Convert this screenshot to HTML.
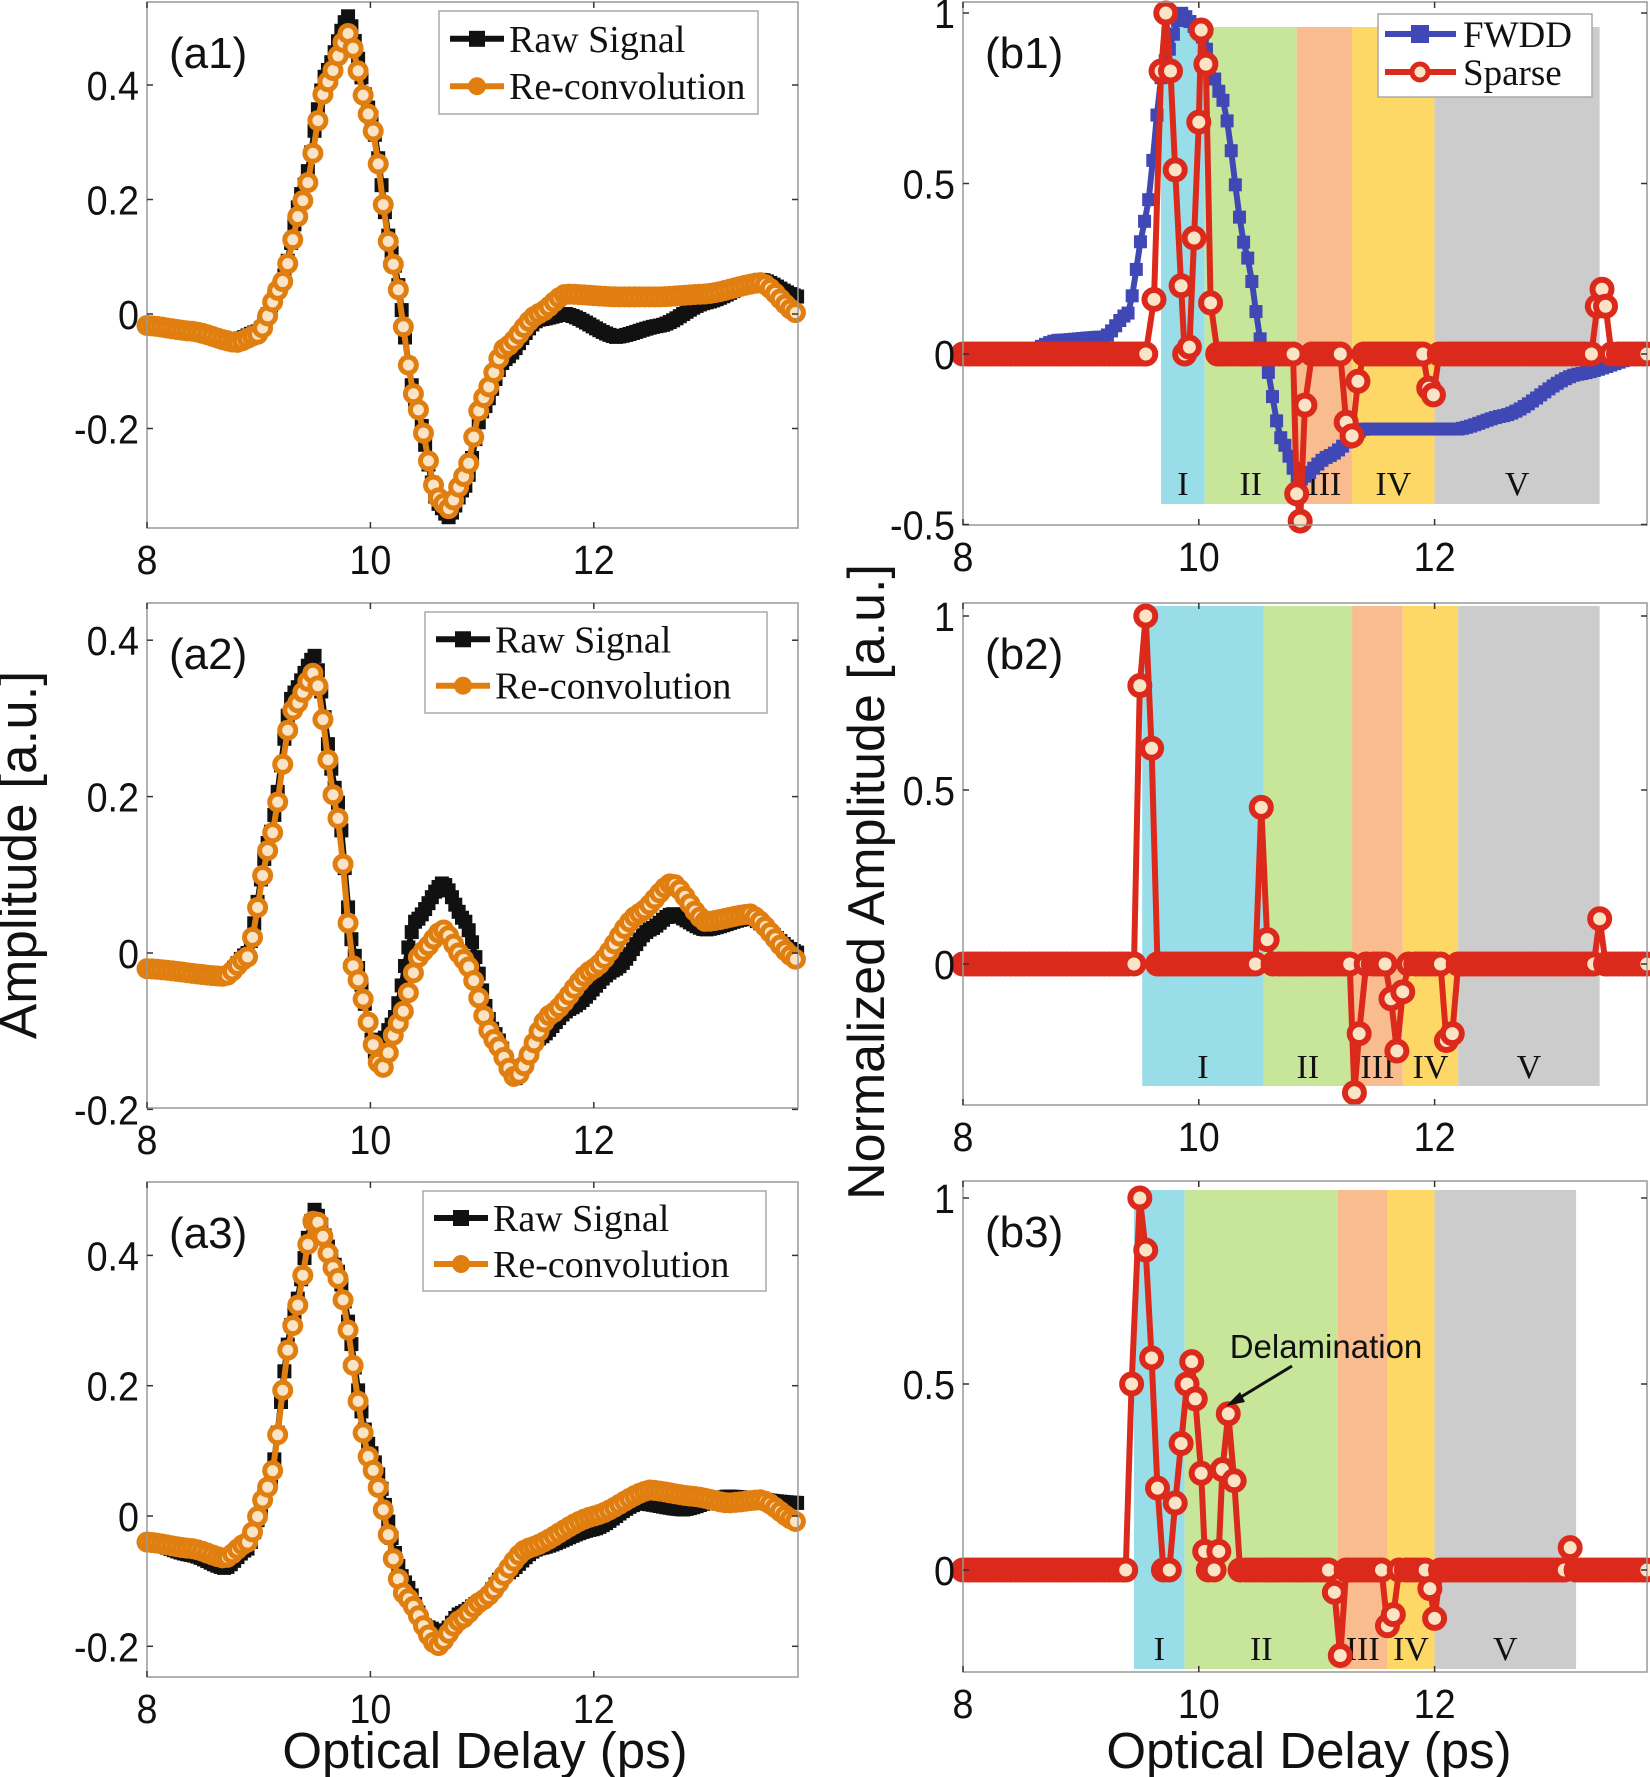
<!DOCTYPE html>
<html><head><meta charset="utf-8">
<style>
html,body{margin:0;padding:0;background:#fff;}
svg{display:block;}
</style></head>
<body>
<svg id="s" xmlns="http://www.w3.org/2000/svg" width="1650" height="1777" viewBox="0 0 1650 1777"></svg>
<script>
const NS="http://www.w3.org/2000/svg";
const S=document.getElementById('s');
function el(tag,attrs,txt){const e=document.createElementNS(NS,tag);for(const k in attrs)e.setAttribute(k,attrs[k]);if(txt!==undefined)e.textContent=txt;S.appendChild(e);return e;}
function interp(kp,t){if(t<=kp[0][0])return kp[0][1];for(let i=1;i<kp.length;i++){if(t<=kp[i][0]){const a=kp[i-1],b=kp[i];const f=(t-a[0])/(b[0]-a[0]);const s=(1-Math.cos(Math.PI*f))/2;return a[1]+(b[1]-a[1])*(0.5*f+0.5*s);}}return kp[kp.length-1][1];}
function sample(kp,x0,x1,dt){const p=[];for(let t=x0;t<=x1+1e-9;t+=dt)p.push([t,interp(kp,t)]);return p;}
function sparse(spikes,x0,x1,dt){let pts=[];const ranges=spikes.map(s=>[s[0][0],s[s.length-1][0]]);for(let t=x0;t<=x1+1e-9;t+=dt){if(!ranges.some(r=>t>=r[0]-0.02&&t<=r[1]+0.02))pts.push([t,0]);}spikes.forEach(s=>pts=pts.concat(s));pts.sort((a,b)=>a[0]-b[0]);return pts;}
function axes(ax){
  const X=v=>ax.x0+(v-8)*ax.xs, Y=v=>ax.y0-v*ax.ys;
  ax.X=X;ax.Y=Y;
  el('rect',{x:ax.l,y:ax.t,width:ax.r-ax.l,height:ax.b-ax.t,fill:'#fff',stroke:'none'});
  return ax;
}
function frame(ax){
  el('rect',{x:ax.l,y:ax.t,width:ax.r-ax.l,height:ax.b-ax.t,fill:'none',stroke:'#999','stroke-width':1.5});
  [8,10,12].forEach(v=>{const x=ax.X(v);el('line',{x1:x,y1:ax.b,x2:x,y2:ax.b-6,stroke:'#333','stroke-width':1.5});el('line',{x1:x,y1:ax.t,x2:x,y2:ax.t+6,stroke:'#333','stroke-width':1.5});
    el('text',{x:x,y:ax.b+46,'font-family':'Liberation Sans, Arial, sans-serif','font-size':41,'text-anchor':'middle',fill:'#111',transform:`translate(${x},0) scale(0.92,1) translate(${-x},0)`},String(v));});
  ax.yt.forEach(v=>{const y=ax.Y(v);el('line',{x1:ax.l,y1:y,x2:ax.l+6,y2:y,stroke:'#333','stroke-width':1.5});el('line',{x1:ax.r,y1:y,x2:ax.r-6,y2:y,stroke:'#333','stroke-width':1.5});
    const tx=ax.l-8;el('text',{x:tx,y:y+15,'font-family':'Liberation Sans, Arial, sans-serif','font-size':41,'text-anchor':'end',fill:'#111',transform:`translate(${tx},0) scale(0.92,1) translate(${-tx},0)`},String(v));});
  el('text',{x:ax.l+22,y:ax.t+66,'font-family':'Liberation Sans, Arial, sans-serif','font-size':44,fill:'#111'},ax.lab);
}
function line(ax,pts,col,w){el('polyline',{points:pts.map(p=>ax.X(p[0]).toFixed(1)+','+ax.Y(p[1]).toFixed(1)).join(' '),fill:'none',stroke:col,'stroke-width':w,'stroke-linejoin':'round'});}
function squares(ax,pts,col,s){pts.forEach(p=>el('rect',{x:ax.X(p[0])-s/2,y:ax.Y(p[1])-s/2,width:s,height:s,fill:col}));}
function circles(ax,pts,col,r,sw){pts.forEach(p=>el('circle',{cx:ax.X(p[0]),cy:ax.Y(p[1]),r:r,fill:'#fbe3c6',stroke:col,'stroke-width':sw}));}
function clipPts(ax,pts){return pts.filter(p=>p[0]<=13.83);}

const BLK='#111',ORG='#e07f10',BLU='#3f48b4',RED='#db2a1c';
const FS='Liberation Serif, Times New Roman, serif';

function aPanel(ax,raw,rec,leg){
  axes(ax);
  const rp=clipPts(ax,sample(raw,8,13.83,0.03)), cp=clipPts(ax,sample(rec,8,13.83,0.045));
  line(ax,rp,BLK,6);squares(ax,rp,BLK,14);
  line(ax,cp,ORG,6);circles(ax,cp,ORG,8,5);
  frame(ax);
  const L=leg;
  el('rect',{x:L.x,y:L.y,width:L.w,height:L.h,fill:'#fff',stroke:'#aaa','stroke-width':1.5});
  const y1=L.y+L.h*0.27,y2=L.y+L.h*0.73;
  el('line',{x1:L.x+11,y1:y1,x2:L.x+65,y2:y1,stroke:BLK,'stroke-width':6});el('rect',{x:L.x+30,y:y1-8,width:16,height:16,fill:BLK});
  el('line',{x1:L.x+11,y1:y2,x2:L.x+65,y2:y2,stroke:ORG,'stroke-width':6});el('circle',{cx:L.x+38,cy:y2,r:9,fill:ORG});
  el('text',{x:L.x+70,y:y1+13,'font-family':FS,'font-size':38,fill:'#111'},'Raw Signal');
  el('text',{x:L.x+70,y:y2+13,'font-family':FS,'font-size':38,fill:'#111'},'Re-convolution');
}
aPanel({l:147,r:798,t:2,b:528,x0:147,xs:111.7,y0:314,ys:572.5,yt:[0.4,0.2,0,-0.2],lab:'(a1)'},
 [[8,-0.02],[8.4,-0.03],[8.8,-0.045],[9.0,-0.03],[9.2,0.05],[9.4,0.22],[9.6,0.42],[9.8,0.52],[10.0,0.35],[10.2,0.1],[10.4,-0.15],[10.6,-0.33],[10.7,-0.355],[10.85,-0.3],[11.0,-0.17],[11.2,-0.08],[11.5,-0.01],[11.75,0.0],[12.2,-0.04],[12.6,-0.02],[13.0,0.02],[13.5,0.06],[13.83,0.03]],
 [[8,-0.02],[8.4,-0.03],[8.8,-0.05],[9.0,-0.035],[9.2,0.05],[9.4,0.2],[9.6,0.4],[9.8,0.49],[10.0,0.34],[10.2,0.09],[10.4,-0.15],[10.6,-0.32],[10.7,-0.34],[10.85,-0.28],[11.0,-0.15],[11.2,-0.06],[11.5,0.0],[11.75,0.035],[12.2,0.03],[12.6,0.03],[13.0,0.035],[13.5,0.055],[13.83,0.0]],
 {x:439,y:11,w:319,h:103});
aPanel({l:147,r:798,t:603,b:1108,x0:147,xs:111.7,y0:953,ys:782,yt:[0.4,0.2,0,-0.2],lab:'(a2)'},
 [[8,-0.02],[8.7,-0.03],[8.9,0.0],[9.1,0.15],[9.3,0.33],[9.5,0.38],[9.7,0.2],[9.85,0.0],[10.05,-0.13],[10.2,-0.09],[10.4,0.04],[10.65,0.09],[10.85,0.04],[11.1,-0.1],[11.3,-0.16],[11.5,-0.11],[11.8,-0.07],[12.2,-0.02],[12.5,0.03],[12.7,0.05],[13.0,0.03],[13.4,0.045],[13.83,0.0]],
 [[8,-0.02],[8.7,-0.03],[8.9,-0.005],[9.1,0.14],[9.3,0.31],[9.5,0.36],[9.7,0.18],[9.85,-0.02],[10.1,-0.15],[10.25,-0.09],[10.45,0.0],[10.65,0.03],[10.85,-0.01],[11.1,-0.11],[11.3,-0.16],[11.6,-0.08],[12.0,-0.02],[12.4,0.05],[12.7,0.09],[13.0,0.04],[13.4,0.05],[13.83,-0.01]],
 {x:425,y:612,w:342,h:101});
aPanel({l:147,r:798,t:1182,b:1677,x0:147,xs:111.7,y0:1516,ys:651.5,yt:[0.4,0.2,0,-0.2],lab:'(a3)'},
 [[8,-0.04],[8.4,-0.06],[8.7,-0.08],[8.9,-0.05],[9.1,0.05],[9.3,0.3],[9.5,0.47],[9.7,0.38],[10.0,0.1],[10.3,-0.1],[10.5,-0.17],[10.65,-0.18],[10.8,-0.15],[11.0,-0.13],[11.2,-0.09],[11.5,-0.05],[12.0,-0.02],[12.4,0.02],[12.8,0.01],[13.2,0.03],[13.83,0.02]],
 [[8,-0.04],[8.4,-0.05],[8.7,-0.065],[8.9,-0.04],[9.1,0.05],[9.3,0.29],[9.5,0.46],[9.7,0.37],[10.0,0.08],[10.3,-0.12],[10.6,-0.2],[10.8,-0.16],[11.0,-0.13],[11.4,-0.05],[12.0,0.0],[12.5,0.04],[12.9,0.03],[13.2,0.02],[13.5,0.025],[13.83,-0.01]],
 {x:423,y:1191,w:343,h:100});

const REG=['#99dde8','#c8e69a','#f9bc8f','#fdd866','#cccccc'];
const RN=['I','II','III','IV','V'];
function bPanel(ax,bounds,rt,rb,labY,sp,fw){
  axes(ax);
  for(let i=0;i<5;i++){const x1=ax.X(bounds[i]),x2=ax.X(bounds[i+1]);
    el('rect',{x:x1,y:rt,width:x2-x1,height:rb-rt,fill:REG[i]});
    el('text',{x:(x1+x2)/2,y:labY,'font-family':FS,'font-size':34,'text-anchor':'middle',fill:'#111'},RN[i]);}
  if(fw){const fp=sample(fw,8,13.83,0.035);line(ax,fp,BLU,6);squares(ax,fp,BLU,13);}
  const pts=sparse(sp,8,13.83,0.04);
  line(ax,pts,RED,6);circles(ax,pts,RED,9.5,6);
  frame(ax);
}
bPanel({l:963,r:1647,t:2,b:525,x0:963,xs:117.9,y0:354,ys:341,yt:[1,0.5,0,-0.5],lab:'(b1)'},
 [9.68,10.05,10.83,11.3,12,13.4],27,504,495,
 [[[9.55,0],[9.62,0.16],[9.68,0.83],[9.72,1.0],[9.76,0.83],[9.8,0.54],[9.85,0.2],[9.88,0.0],[9.92,0.02],[9.96,0.34],[10.0,0.68],[10.02,0.95],[10.06,0.85],[10.1,0.15],[10.16,0]],
  [[10.8,0],[10.83,-0.41],[10.86,-0.49],[10.9,-0.15],[10.96,0]],
  [[11.2,0],[11.25,-0.2],[11.3,-0.24],[11.35,-0.08],[11.4,0]],
  [[11.9,0],[11.95,-0.1],[11.99,-0.12],[12.04,0]],
  [[13.33,0],[13.38,0.14],[13.42,0.19],[13.45,0.14],[13.5,0]]],
 [[8,0],[8.5,0],[8.8,0.04],[9.2,0.05],[9.4,0.12],[9.55,0.4],[9.7,0.85],[9.85,1.0],[10.0,0.95],[10.2,0.75],[10.4,0.3],[10.55,0.0],[10.7,-0.25],[10.85,-0.37],[11.1,-0.3],[11.4,-0.22],[11.8,-0.22],[12.2,-0.22],[12.6,-0.18],[13.2,-0.06],[13.83,0]]);
bPanel({l:963,r:1647,t:603,b:1105,x0:963,xs:117.9,y0:964,ys:348,yt:[1,0.5,0],lab:'(b2)'},
 [9.52,10.55,11.3,11.73,12.2,13.4],606,1086,1078,
 [[[9.45,0],[9.5,0.8],[9.55,1.0],[9.6,0.62],[9.65,0]],
  [[10.48,0],[10.53,0.45],[10.58,0.07],[10.63,0]],
  [[11.28,0],[11.32,-0.37],[11.36,-0.2],[11.42,0]],
  [[11.58,0],[11.63,-0.1],[11.68,-0.25],[11.73,-0.08],[11.78,0]],
  [[12.05,0],[12.1,-0.22],[12.15,-0.2],[12.2,0]],
  [[13.35,0],[13.4,0.13],[13.45,0]]],null);
bPanel({l:963,r:1647,t:1181,b:1672,x0:963,xs:117.9,y0:1570,ys:372,yt:[1,0.5,0],lab:'(b3)'},
 [9.45,9.88,11.18,11.6,12,13.2],1190,1669,1660,
 [[[9.38,0],[9.43,0.5],[9.5,1.0],[9.55,0.86],[9.6,0.57],[9.65,0.22],[9.7,0],[9.75,0],[9.8,0.18],[9.85,0.34],[9.9,0.5],[9.94,0.56],[9.97,0.46],[10.02,0.26],[10.05,0.05],[10.08,0],[10.13,0],[10.17,0.05],[10.2,0.27],[10.25,0.42],[10.3,0.24],[10.35,0]],
  [[11.1,0],[11.15,-0.06],[11.2,-0.23],[11.25,0]],
  [[11.55,0],[11.6,-0.15],[11.65,-0.12],[11.7,0]],
  [[11.92,0],[11.96,-0.05],[12.0,-0.13],[12.05,0]],
  [[13.1,0],[13.15,0.06],[13.2,0]]],null);

(function(){const x=1378,y=14,w=214,h=83;
 el('rect',{x:x,y:y,width:w,height:h,fill:'#fff',stroke:'#aaa','stroke-width':1.5});
 el('line',{x1:x+7,y1:y+20,x2:x+78,y2:y+20,stroke:BLU,'stroke-width':6});el('rect',{x:x+33,y:y+11,width:18,height:18,fill:BLU});
 el('line',{x1:x+7,y1:y+58,x2:x+78,y2:y+58,stroke:RED,'stroke-width':6});el('circle',{cx:x+42,cy:y+58,r:8,fill:'#fbe3c6',stroke:RED,'stroke-width':5});
 el('text',{x:x+85,y:y+33,'font-family':FS,'font-size':37,fill:'#111'},'FWDD');
 el('text',{x:x+85,y:y+71,'font-family':FS,'font-size':37,fill:'#111'},'Sparse');
})();
el('text',{x:1326,y:1358,'font-family':'Liberation Sans, Arial, sans-serif','font-size':33,'text-anchor':'middle',fill:'#111'},'Delamination');
el('line',{x1:1292,y1:1366,x2:1236,y2:1400,stroke:'#111','stroke-width':3});
el('polygon',{points:'1226,1406 1240,1392 1245,1402',fill:'#111'});
el('text',{x:0,y:0,transform:'translate(36,855) rotate(-90)','font-family':'Liberation Sans, Arial, sans-serif','font-size':53,'text-anchor':'middle',fill:'#111'},'Amplitude [a.u.]');
el('text',{x:0,y:0,transform:'translate(884,882) rotate(-90)','font-family':'Liberation Sans, Arial, sans-serif','font-size':52,'text-anchor':'middle',fill:'#111'},'Normalized Amplitude [a.u.]');
el('text',{x:485,y:1768,'font-family':'Liberation Sans, Arial, sans-serif','font-size':51,'text-anchor':'middle',fill:'#111'},'Optical Delay (ps)');
el('text',{x:1309,y:1768,'font-family':'Liberation Sans, Arial, sans-serif','font-size':51,'text-anchor':'middle',fill:'#111'},'Optical Delay (ps)');
</script>
</body></html>
